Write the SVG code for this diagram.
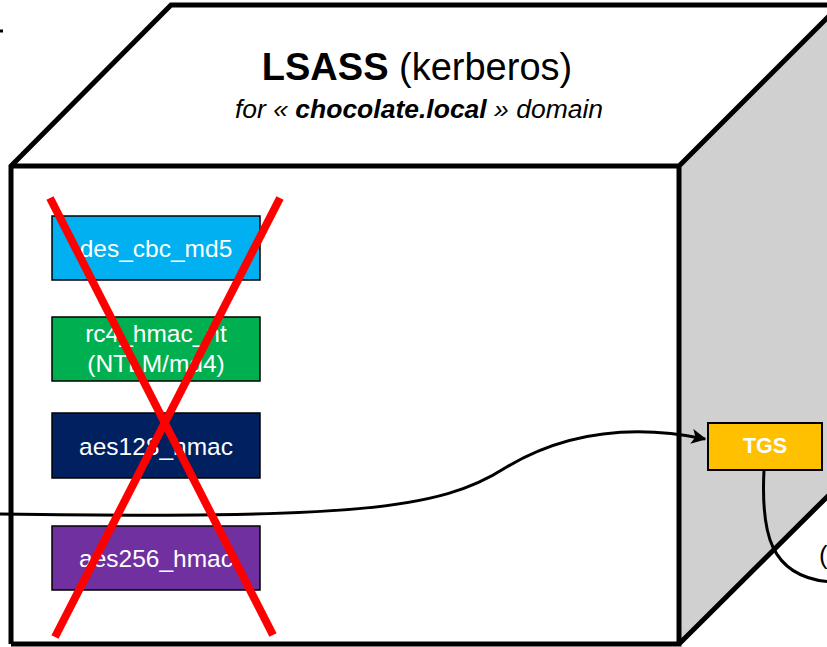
<svg xmlns="http://www.w3.org/2000/svg" width="827" height="647" viewBox="0 0 827 647">
<defs>
<style>
.edge{fill:none;stroke:#000;stroke-width:5;stroke-linejoin:miter}
.key{stroke:#000;stroke-width:1.5}
.kt{font-family:"Liberation Sans",Arial,sans-serif;font-size:24.5px;fill:#fff;text-anchor:middle}
.conn{fill:none;stroke:#000;stroke-width:3}
.cross{stroke:#FF0000;stroke-width:8;stroke-linecap:butt}
</style>
<marker id="arr" viewBox="0 0 10 10" refX="9" refY="5" markerWidth="5" markerHeight="5" markerUnits="strokeWidth" orient="auto">
<path d="M0,0 L10,5 L0,10 L2.5,5 Z" fill="#000"/>
</marker>
</defs>
<rect width="827" height="647" fill="#fff"/>
<g id="box">
<polygon points="679,166 840,5 840,484 679,645" fill="#D0D0D0"/>
<polygon points="11,166 171,5 840,5 679,166" fill="#fff"/>
<rect x="11" y="166" width="668" height="478" fill="#fff"/>
<path class="edge" d="M11,644 L11,166 L171,5 L845,5 M11,166 L679,166 L840,5 M679,166 L679,644 L11,644 M679,644 L840,484"/>
</g>
<g id="title" font-family="Liberation Sans,Arial,sans-serif" text-anchor="middle">
<text x="417" y="80" font-size="38"><tspan font-weight="bold">LSASS</tspan> (kerberos)</text>
<text x="419" y="118" font-size="26.5" font-style="italic">for « <tspan font-weight="bold">chocolate.local</tspan> » domain</text>
</g>
<g id="des_cbc_md5">
<rect class="key" x="52" y="216" width="208" height="64" fill="#00B0F0"/>
<text class="kt" x="156" y="257">des_cbc_md5</text>
</g>
<g id="rc4_hmac_nt">
<rect class="key" x="52" y="317" width="208" height="64" fill="#00B050"/>
<text class="kt" x="156" y="342">rc4_hmac_nt</text>
<text class="kt" x="156" y="372">(NTLM/md4)</text>
</g>
<g id="aes128_hmac">
<rect class="key" x="52" y="413" width="208" height="65" fill="#002060"/>
<text class="kt" x="156" y="455">aes128_hmac</text>
</g>
<g id="aes256_hmac">
<rect class="key" x="52" y="526" width="208" height="64" fill="#7030A0"/>
<text class="kt" x="156" y="567">aes256_hmac</text>
</g>
<g id="TGS">
<rect x="708" y="423" width="114" height="47" fill="#FFC000" stroke="#000" stroke-width="2"/>
<text x="765" y="453" font-family="Liberation Sans,Arial,sans-serif" font-size="21.5" font-weight="bold" fill="#fff" text-anchor="middle">TGS</text>
</g>
<g id="connectors">
<path class="conn" d="M-5,514 C350,519 440,510 505,468 C565,432 632,424 705,439" marker-end="url(#arr)"/>
<path class="conn" d="M764,470 C761,530 768,578 832,582"/>
<path class="conn" d="M0,31 L3,31"/>
</g>
<g id="cross">
<line class="cross" x1="50" y1="198" x2="273" y2="635"/>
<line class="cross" x1="280" y1="198" x2="55" y2="637"/>
</g>
<text x="819" y="564" font-family="Liberation Sans,Arial,sans-serif" font-size="26" fill="#000">(</text>
</svg>
